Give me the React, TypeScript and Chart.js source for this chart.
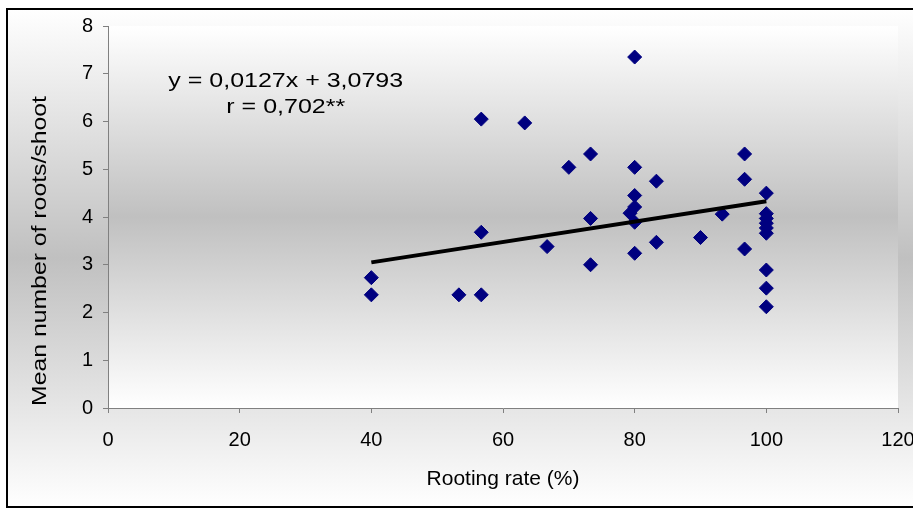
import React, { useEffect, useRef } from 'react';
import { Chart, registerables } from 'chart.js';

Chart.register(...registerables);

// Rooting rate (%) of each observation
const rootingRate = [
  40, 40,
  53.3,
  56.7, 56.7, 56.7,
  63.3,
  66.7,
  70,
  73.3, 73.3, 73.3,
  79.3,
  80, 80, 80, 80, 80, 80,
  83.3, 83.3,
  90,
  93.3,
  96.7, 96.7, 96.7,
  100, 100, 100, 100, 100, 100, 100, 100, 100,
];

// Mean number of roots per shoot of each observation
const rootsPerShoot = [
  2.73, 2.37,
  2.37,
  6.05, 3.68, 2.37,
  5.97,
  3.38,
  5.04,
  5.32, 3.97, 3.0,
  4.08,
  7.35, 5.04, 4.45, 4.21, 3.89, 3.24,
  4.75, 3.47,
  3.57,
  4.06,
  5.32, 4.79, 3.33,
  4.5, 4.07, 3.97, 3.87, 3.77, 3.66, 2.89, 2.51, 2.12,
];

// Trend line as drawn in the figure
const trendX = [40, 100];
const trendY = [3.05, 4.33];

const xAxisRange = [0, 120];
const xTickStep = 20;
const yAxisRange = [0, 8];
const yTickStep = 1;

const xTitle = 'Rooting rate (%)';
const yTitle = 'Mean number of roots/shoot';
const equationLines = ['y = 0,0127x + 3,0793', 'r = 0,702**'];

const FONT = '"Liberation Sans", Arial, Helvetica, sans-serif';

const decorPlugin = {
  id: 'decor',
  beforeDraw(chart: any) {
    const { ctx, width, height, chartArea: ca } = chart;
    ctx.save();
    let g = ctx.createLinearGradient(0, 0, 0, height);
    g.addColorStop(0, '#ffffff');
    g.addColorStop(0.5, '#c0c0c0');
    g.addColorStop(1, '#ffffff');
    ctx.fillStyle = g;
    ctx.fillRect(0, 0, width, height);
    g = ctx.createLinearGradient(0, ca.top, 0, ca.bottom);
    g.addColorStop(0, '#ffffff');
    g.addColorStop(0.5, '#c0c0c0');
    g.addColorStop(1, '#ffffff');
    ctx.fillStyle = g;
    ctx.fillRect(ca.left, ca.top, ca.right - ca.left, ca.bottom - ca.top);
    ctx.strokeStyle = '#000000';
    ctx.lineWidth = 2;
    ctx.strokeRect(1, 1, width - 2, height - 2);
    ctx.restore();
  },
  afterDraw(chart: any) {
    const { ctx } = chart;
    const xs = chart.scales.x;
    const ys = chart.scales.y;
    ctx.save();
    ctx.fillStyle = '#000000';
    ctx.textAlign = 'center';
    ctx.textBaseline = 'middle';
    // regression equation
    ctx.font = `21px ${FONT}`;
    const cx = xs.getPixelForValue(27);
    [6.85, 6.3].forEach((v, i) => {
      ctx.save();
      ctx.translate(cx, ys.getPixelForValue(v));
      ctx.scale(1.19, 1);
      ctx.fillText(equationLines[i], 0, 0);
      ctx.restore();
    });
    // y axis title
    ctx.font = `21px ${FONT}`;
    ctx.translate(34, 243);
    ctx.rotate(-Math.PI / 2);
    ctx.scale(1.18, 1);
    ctx.fillText(yTitle, 0, 0);
    ctx.restore();
  },
};

export default function App() {
  const ref = useRef<HTMLCanvasElement | null>(null);

  useEffect(() => {
    if (!ref.current) return;
    const points = rootingRate.map((x, i) => ({ x, y: rootsPerShoot[i] }));
    const trend = trendX.map((x, i) => ({ x, y: trendY[i] }));
    const chart = new Chart(ref.current, {
      type: 'scatter',
      data: {
        datasets: [
          {
            type: 'line',
            data: trend,
            borderColor: '#000000',
            borderWidth: 4,
            pointRadius: 0,
            showLine: true,
            fill: false,
            order: 0,
          } as any,
          {
            data: points,
            pointStyle: 'rectRot',
            pointRadius: 7,
            backgroundColor: '#000080',
            borderColor: '#000080',
            borderWidth: 1,
            order: 1,
          },
        ],
      },
      options: {
        responsive: false,
        animation: false,
        devicePixelRatio: 1,
        layout: { padding: { top: 18, right: 28, left: 0, bottom: 0 } },
        plugins: {
          legend: { display: false },
          tooltip: { enabled: false },
        },
        scales: {
          x: {
            type: 'linear',
            min: xAxisRange[0],
            max: xAxisRange[1],
            afterFit: (s: any) => {
              s.height = 100;
              s.paddingLeft = 0;
              s.paddingRight = 0;
            },
            ticks: {
              stepSize: xTickStep,
              color: '#000000',
              font: { family: FONT, size: 20 },
              padding: 15,
            },
            grid: {
              drawOnChartArea: false,
              drawTicks: true,
              tickLength: 5,
              color: '#808080',
            },
            border: { color: '#808080', width: 1 },
            title: {
              display: true,
              text: xTitle,
              color: '#000000',
              font: { family: FONT, size: 21 },
              padding: { top: 0, bottom: 16 },
            },
          },
          y: {
            type: 'linear',
            min: yAxisRange[0],
            max: yAxisRange[1],
            afterFit: (s: any) => {
              s.width = 102;
              s.paddingTop = 0;
              s.paddingBottom = 0;
            },
            ticks: {
              stepSize: yTickStep,
              color: '#000000',
              font: { family: FONT, size: 20 },
              padding: 10,
            },
            grid: {
              drawOnChartArea: false,
              drawTicks: true,
              tickLength: 5,
              color: '#808080',
            },
            border: { color: '#808080', width: 1 },
            title: { display: false },
          },
        },
      },
      plugins: [decorPlugin],
    } as any);
    return () => chart.destroy();
  }, []);

  return (
    <div style={{ position: 'fixed', left: 0, top: 0, width: 913, height: 510, overflow: 'hidden', background: '#ffffff' }}>
      <canvas
        ref={ref}
        width={920}
        height={500}
        style={{ position: 'absolute', left: 6, top: 8, width: 920, height: 500 }}
      />
    </div>
  );
}
